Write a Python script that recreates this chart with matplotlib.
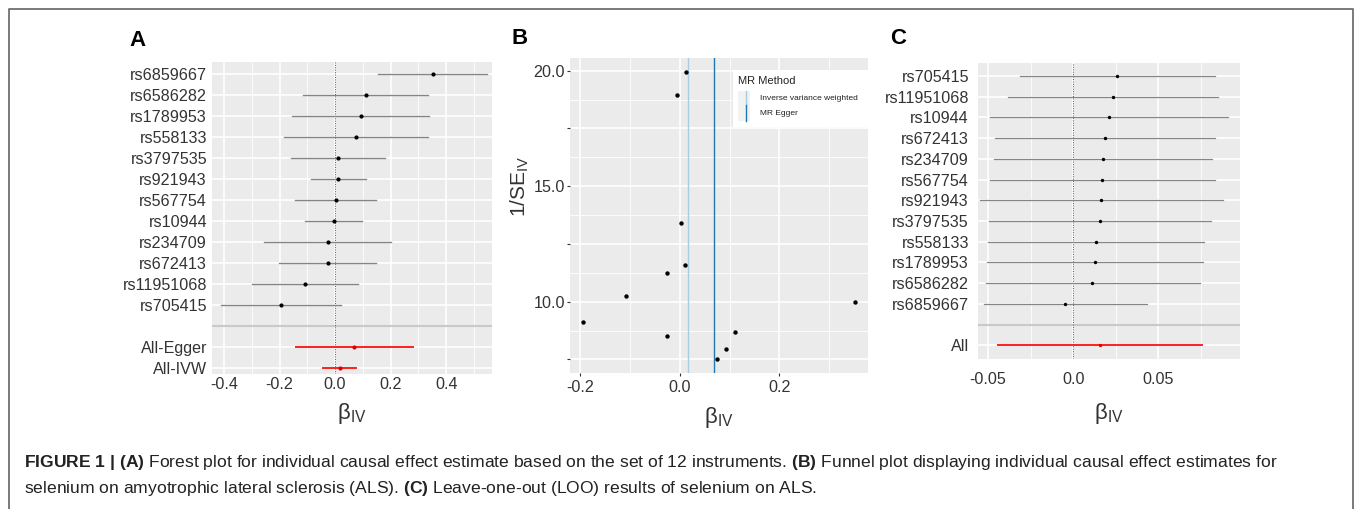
import numpy as np
import matplotlib
matplotlib.use('Agg')
import matplotlib.pyplot as plt
from matplotlib.lines import Line2D
from matplotlib.patches import Rectangle

plt.rcParams['font.family'] = ['Liberation Sans', 'DejaVu Sans']
plt.rcParams['mathtext.fontset'] = 'custom'
plt.rcParams['mathtext.rm'] = 'Liberation Sans'
plt.rcParams['mathtext.it'] = 'Liberation Sans:italic'
plt.rcParams['mathtext.bf'] = 'Liberation Sans:bold'
plt.rcParams['axes.unicode_minus'] = False

# single SNP estimates (panel A order, top to bottom)
snps = ['rs6859667', 'rs6586282', 'rs1789953', 'rs558133', 'rs3797535', 'rs921943',
        'rs567754', 'rs10944', 'rs234709', 'rs672413', 'rs11951068', 'rs705415']
beta = [0.351, 0.110, 0.092, 0.075, 0.011, 0.012, 0.003, -0.005, -0.027, -0.026, -0.108, -0.195]
inv_se = [10.0, 8.70, 7.97, 7.53, 11.59, 19.93, 13.41, 18.95, 8.53, 11.26, 10.26, 9.12]

# pooled estimates
summary_names = ['All-Egger', 'All-IVW']
summary_b = [0.069, 0.016]
summary_lo = [-0.140, -0.044]
summary_hi = [0.279, 0.075]

# MR methods for the funnel plot
mr_methods = ['Inverse variance weighted', 'MR Egger']
method_b = [0.016, 0.069]
method_colors = ['#A6CEE3', '#1F78B4']

# leave-one-out
loo_snps = ['rs705415', 'rs11951068', 'rs10944', 'rs672413', 'rs234709', 'rs567754',
            'rs921943', 'rs3797535', 'rs558133', 'rs1789953', 'rs6586282', 'rs6859667']
loo_b = [0.0259, 0.0233, 0.0208, 0.0188, 0.0173, 0.0171, 0.0165, 0.0157, 0.0135, 0.0127, 0.0112, -0.0047]
loo_lo = [-0.0312, -0.0382, -0.0490, -0.0459, -0.0465, -0.0490, -0.0549, -0.0494, -0.0498, -0.0506, -0.0514, -0.0525]
loo_hi = [0.0831, 0.0851, 0.0910, 0.0835, 0.0814, 0.0833, 0.0878, 0.0812, 0.0771, 0.0761, 0.0743, 0.0433]
loo_all = [0.0157, -0.0441, 0.0755]

W, H = 1355, 509
fig = plt.figure(figsize=(W / 100, H / 100), dpi=100)
fig.patch.set_facecolor('white')

TXT = '#333333'
beta_lab = r'$\mathrm{\beta}_{\mathrm{IV}}$'


def px_axes(l, r, t, b):
    return [l / W, 1 - b / H, (r - l) / W, (b - t) / H]


def gg(ax):
    ax.set_facecolor('#EBEBEB')
    for s in ax.spines.values():
        s.set_visible(False)
    ax.grid(True, which='major', color='white', lw=1.2)
    ax.grid(True, which='minor', color='white', lw=0.6)
    ax.set_axisbelow(True)
    ax.tick_params(which='both', length=0, labelsize=11.6, labelcolor=TXT)


# ---- A: forest plot
axA = fig.add_axes(px_axes(212, 492, 62, 374))
gg(axA)
se = 1 / np.array(inv_se)
rows = np.arange(1, len(snps) + 1)
for y, b, s in zip(rows, beta, se):
    axA.plot([b - 1.96 * s, b + 1.96 * s], [y, y], color='#858585', lw=1.0, zorder=2)
axA.scatter(beta, rows, s=9, color='black', zorder=3, linewidths=0)
srows = [14, 15]
for y, b, lo, hi in zip(srows, summary_b, summary_lo, summary_hi):
    axA.plot([lo, hi], [y, y], color='#FF2020', lw=1.4, zorder=2)
axA.scatter(summary_b, srows, s=9, color='#E00000', zorder=3, linewidths=0)
axA.axhline(13, color='#C9C9C9', lw=1.5, zorder=1)
axA.axvline(0, color='#555555', lw=0.7, ls=(0, (1, 1.5)), zorder=1)
axA.set_yticks(list(rows) + srows, snps + summary_names)
axA.set_ylim(15.29, 0.43)
axA.set_xlim(-0.443, 0.565)
axA.set_xticks([-0.4, -0.2, 0, 0.2, 0.4], ['-0.4', '-0.2', '0.0', '0.2', '0.4'])
axA.set_xticks([-0.3, -0.1, 0.1, 0.3, 0.5], minor=True)
axA.tick_params(axis='x', pad=2.2)
axA.tick_params(axis='y', pad=3.6)
axA.set_xlabel(beta_lab, fontsize=16, color=TXT, va='center')
axA.xaxis.set_label_coords(0.5, -39 / 312)

# ---- B: funnel plot
axB = fig.add_axes(px_axes(570, 868, 58, 373))
gg(axB)
axB.scatter(beta, inv_se, s=10, color='black', zorder=3, linewidths=0)
for b, c in zip(method_b, method_colors):
    axB.axvline(b, color=c, lw=1.0, zorder=2)
axB.set_xlim(-0.221, 0.378)
axB.set_ylim(6.91, 20.55)
axB.set_xticks([-0.2, 0, 0.2], ['-0.2', '0.0', '0.2'])
axB.set_xticks([-0.1, 0.1, 0.3], minor=True)
axB.set_yticks([7.5, 10, 12.5, 15, 17.5, 20], ['', '10.0', '', '15.0', '', '20.0'])
axB.set_yticks([8.75, 11.25, 13.75, 16.25, 18.75], minor=True)
axB.tick_params(which='major', length=2.2, width=0.8, color=TXT, pad=1.5)
axB.tick_params(axis='x', pad=3)
axB.set_xlabel(beta_lab, fontsize=16, color=TXT, va='center')
axB.xaxis.set_label_coords(0.5, -44 / 315)
axB.set_ylabel(r'$\mathrm{1/SE}_{\mathrm{IV}}$', fontsize=15, color=TXT, va='center')
axB.yaxis.set_label_coords(-50 / 298, (373 - 186) / 315)

# legend drawn inside the panel like the ggplot one
tr = axB.transAxes
axB.add_patch(Rectangle((0.547, 0.781), 0.453, 0.181, transform=tr, facecolor='white',
                        edgecolor='none', zorder=4))
axB.text(0.564, 0.928, 'MR Method', transform=tr, fontsize=8, color='#222222',
         va='center', ha='left', zorder=5)
key_y = [0.870, 0.825]
for k, (name, c) in enumerate(zip(mr_methods, method_colors)):
    y0 = key_y[k] - 0.026
    axB.add_patch(Rectangle((0.564, y0), 0.040, 0.052, transform=tr, facecolor='#F2F2F2',
                            edgecolor='none', zorder=5))
    axB.add_line(Line2D([0.591, 0.591], [y0, y0 + 0.052], transform=tr, color=c, lw=1.0, zorder=6))
    axB.text(0.638, key_y[k], name, transform=tr, fontsize=6, color='#222222',
             va='center', ha='left', zorder=6)

# ---- C: leave-one-out
axC = fig.add_axes(px_axes(978, 1240, 63, 359))
gg(axC)
crow = np.arange(1, len(loo_snps) + 1)
for y, lo, hi in zip(crow, loo_lo, loo_hi):
    axC.plot([lo, hi], [y, y], color='#858585', lw=0.9, zorder=2)
axC.scatter(loo_b, crow, s=6, color='black', zorder=3, linewidths=0)
axC.plot([loo_all[1], loo_all[2]], [14, 14], color='#FF2020', lw=1.4, zorder=2)
axC.scatter([loo_all[0]], [14], s=6, color='#E00000', zorder=3, linewidths=0)
axC.axhline(13, color='#C9C9C9', lw=1.5, zorder=1)
axC.axvline(0, color='#555555', lw=0.7, ls=(0, (1, 1.5)), zorder=1)
axC.set_yticks(list(crow) + [14], loo_snps + ['All'])
axC.set_ylim(14.66, 0.373)
axC.set_xlim(-0.0559, 0.098)
axC.set_xticks([-0.05, 0, 0.05], ['-0.05', '0.0', '0.05'])
axC.set_xticks([-0.025, 0.025, 0.075], minor=True)
axC.tick_params(axis='x', pad=9.4)
axC.tick_params(axis='y', pad=6.5)
axC.set_xlabel(beta_lab, fontsize=16, color=TXT, va='center')
axC.xaxis.set_label_coords(0.5, -54 / 296)

# panel letters
for lab, x, y in [('A', 138, 40), ('B', 520, 38), ('C', 898, 38)]:
    fig.text(x / W, 1 - y / H, lab, fontsize=16, fontweight='bold', ha='center', va='center')

# frame around figure (open at the bottom)
fig.add_artist(Line2D([9 / W, 9 / W, 1353 / W, 1353 / W], [0, 1 - 9 / H, 1 - 9 / H, 0],
                      transform=fig.transFigure, color='#707070', lw=1.3))

# caption
cap1 = (r'$\mathbf{FIGURE\ 1\ |\ (A)}$ Forest plot for individual causal effect estimate based on the set '
        r'of 12 instruments. $\mathbf{(B)}$ Funnel plot displaying individual causal effect estimates for')
cap2 = r'selenium on amyotrophic lateral sclerosis (ALS). $\mathbf{(C)}$ Leave-one-out (LOO) results of selenium on ALS.'
fig.text(24 / W, 1 - 463 / H, cap1, fontsize=12.6, color='#222222', ha='left', va='center')
fig.text(24 / W, 1 - 489 / H, cap2, fontsize=12.6, color='#222222', ha='left', va='center')

fig.savefig('out.png', dpi=100)
